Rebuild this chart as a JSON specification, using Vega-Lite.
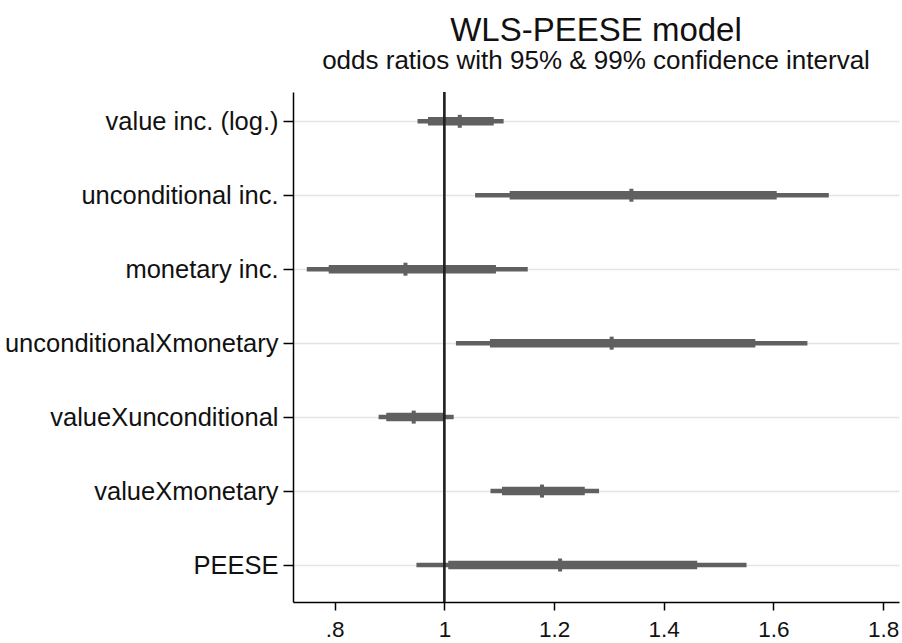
{
  "$schema": "https://vega.github.io/schema/vega-lite/v6.json",
  "autosize": "none",
  "padding": {"left": 293, "top": 92, "right": 3, "bottom": 41},
  "width": 606,
  "height": 510,
  "background": "white",
  "title": {
    "text": "WLS-PEESE model",
    "subtitle": "odds ratios with 95% & 99% confidence interval",
    "font": "Liberation Sans",
    "fontSize": 33,
    "fontWeight": "normal",
    "color": "#111111",
    "subtitleFont": "Liberation Sans",
    "subtitleFontSize": 26,
    "subtitleColor": "#111111",
    "subtitlePadding": 0,
    "anchor": "middle",
    "offset": 17
  },
  "config": {
    "view": {"stroke": null},
    "axis": {
      "labelFont": "Liberation Sans",
      "labelColor": "#111111",
      "domainColor": "#000000",
      "domainWidth": 1.5,
      "tickColor": "#000000",
      "tickWidth": 1.5
    }
  },
  "data": {
    "values": [
      {"term": "value inc. (log.)", "lo99": 0.951, "lo95": 0.970, "est": 1.028, "hi95": 1.090, "hi99": 1.108},
      {"term": "unconditional inc.", "lo99": 1.056, "lo95": 1.119, "est": 1.341, "hi95": 1.606, "hi99": 1.701},
      {"term": "monetary inc.", "lo99": 0.749, "lo95": 0.789, "est": 0.929, "hi95": 1.094, "hi99": 1.152},
      {"term": "unconditionalXmonetary", "lo99": 1.021, "lo95": 1.083, "est": 1.305, "hi95": 1.567, "hi99": 1.662},
      {"term": "valueXunconditional", "lo99": 0.880, "lo95": 0.894, "est": 0.944, "hi95": 1.001, "hi99": 1.017},
      {"term": "valueXmonetary", "lo99": 1.084, "lo95": 1.105, "est": 1.178, "hi95": 1.256, "hi99": 1.282},
      {"term": "PEESE", "lo99": 0.949, "lo95": 1.007, "est": 1.211, "hi95": 1.461, "hi99": 1.551}
    ]
  },
  "layer": [
    {
      "mark": {"type": "rule", "strokeWidth": 4.5, "color": "#606060"},
      "encoding": {
        "y": {
          "field": "term",
          "type": "nominal",
          "sort": null,
          "title": null,
          "scale": {"type": "point", "padding": 0.448, "align": 0.442},
          "axis": {
            "grid": true,
            "gridColor": "#e4e4e4",
            "gridWidth": 1.5,
            "tickSize": 10,
            "labelFontSize": 25.5,
            "labelPadding": 5,
            "labelLimit": 400
          }
        },
        "x": {
          "field": "lo99",
          "type": "quantitative",
          "title": null,
          "scale": {"domain": [0.7239, 1.829], "nice": false, "zero": false},
          "axis": {
            "values": [0.8, 1, 1.2, 1.4, 1.6, 1.8],
            "format": "~g",
            "labelExpr": "datum.value < 1 ? substring(datum.label, 1) : datum.label",
            "grid": false,
            "tickSize": 8,
            "labelFontSize": 22.5,
            "labelPadding": 8
          }
        },
        "x2": {"field": "hi99"}
      }
    },
    {
      "mark": {"type": "rule", "strokeWidth": 8.5, "color": "#606060"},
      "encoding": {
        "y": {"field": "term", "type": "nominal", "sort": null},
        "x": {"field": "lo95", "type": "quantitative"},
        "x2": {"field": "hi95"}
      }
    },
    {
      "mark": {"type": "tick", "orient": "vertical", "size": 13, "thickness": 4, "color": "#606060", "opacity": 1},
      "encoding": {
        "y": {"field": "term", "type": "nominal", "sort": null},
        "x": {"field": "est", "type": "quantitative"}
      }
    },
    {
      "mark": {"type": "rule", "strokeWidth": 1.5, "color": "#222222"},
      "encoding": {
        "x": {"datum": 1, "type": "quantitative"}
      }
    }
  ]
}
